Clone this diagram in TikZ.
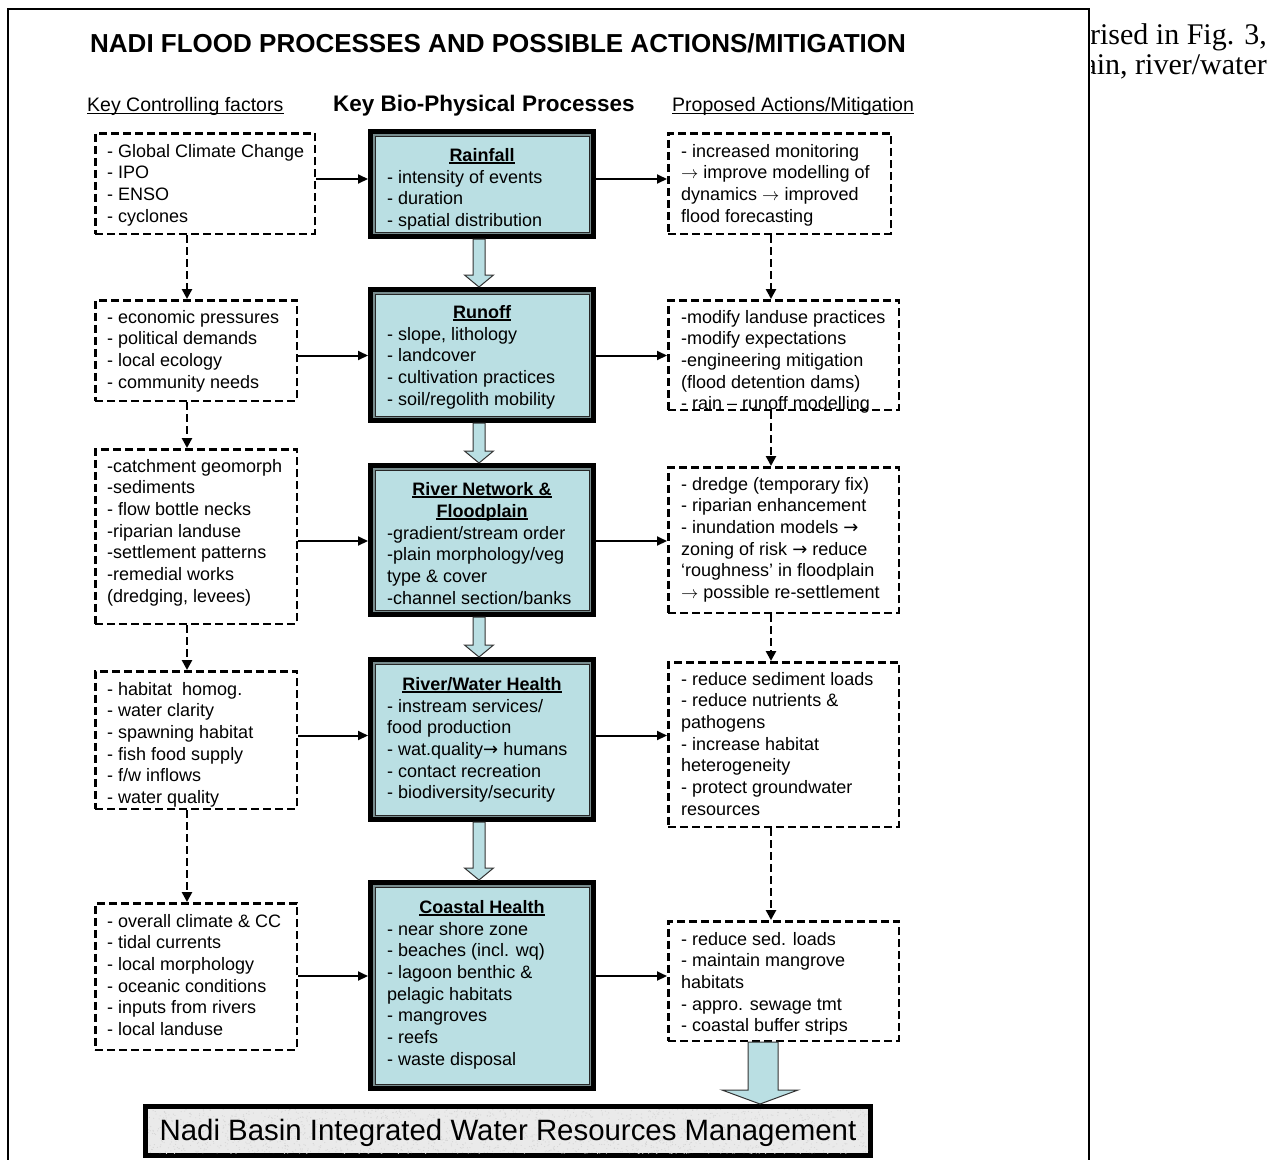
\documentclass[tikz,border=0pt]{standalone}
\usepackage{fontspec}
\setmainfont{Liberation Sans}
\newfontfamily\timesf{Liberation Serif}
\newfontfamily\dvs{DejaVu Sans}
\usetikzlibrary{arrows.meta,calc}
\definecolor{procfill}{RGB}{186,223,227}
\definecolor{procedge}{RGB}{120,140,142}
\definecolor{bbfill}{RGB}{234,234,234}
\newcommand\thinarr{\ensuremath{\rightarrow}}
\newcommand\blkarrow[2]{%
  \draw[blk] ($(#1.south)+(-9,0)$) -- ($(#1.south)+(3,0)$) -- ($(#2.north)+(3,-12)$)
    -- ($(#2.north)+(11.5,-12)$) -- ($(#2.north)+(-3,0)$) -- ($(#2.north)+(-17.5,-12)$)
    -- ($(#2.north)+(-9,-12)$) -- cycle;}
\begin{document}
\begin{tikzpicture}[x=1pt,y=-1pt,
  body/.style={font=\fontsize{18}{21.65}\selectfont, inner sep=0pt, anchor=north west, align=left},
  ptitle/.style={font=\bfseries\fontsize{18}{21.65}\selectfont, inner sep=0pt, anchor=base},
  hdr/.style={font=\fontsize{19.5}{23}\selectfont, inner sep=0pt, anchor=base west},
  dbox/.style={draw, line width=2.5pt, dash pattern=on 8pt off 4pt},
  proc/.style={draw=black, line width=5pt, fill=procfill},
  arr/.style={line width=2pt, -{Triangle[length=10pt,width=9pt]}},
  darr/.style={line width=2.5pt, dash pattern=on 8pt off 4pt, -{Triangle[length=10pt,width=10pt]}},
  blk/.style={fill=procfill, draw=black!80, line width=1pt, line join=miter},
  ul/.style={line width=1.4pt}]
\useasboundingbox (0,0) rectangle (1276,1159);

% outer frame
\draw[line width=2.5pt] (8,1162) -- (8,9) -- (1089,9) -- (1089,1162);

% side text (cut by the frame)
\begin{scope}
  \clip (1091,0) rectangle (1276,1159);
  \node[font=\timesf\fontsize{30}{34}\selectfont, anchor=base east, inner sep=0pt] (s1) at (1267,44) {rised in Fig. 3,};
  \node[font=\timesf\fontsize{30}{34}\selectfont, anchor=base east, inner sep=0pt] (s2) at (1267,74) {ain, river/water};
\end{scope}

% title and headers
\node[font=\bfseries\fontsize{26}{30}\selectfont, anchor=base west, inner sep=0pt] (title) at (90,52) {NADI FLOOD PROCESSES AND POSSIBLE ACTIONS/MITIGATION};
\node[hdr] (h1) at (87,111) {Key Controlling factors};
\node[font=\bfseries\fontsize{22.5}{27}\selectfont, anchor=base west, inner sep=0pt] (h2) at (333,111) {Key Bio-Physical Processes};
\node[hdr] (h3) at (672,111) {Proposed Actions/Mitigation};
\draw[ul] ([yshift=-2.5pt]h1.base west) -- ([yshift=-2.5pt]h1.base east);
\draw[ul] ([yshift=-2.5pt]h3.base west) -- ([yshift=-2.5pt]h3.base east);

% process boxes
\node[proc, minimum width=223pt, minimum height=105pt] (P1) at (482,184) {};
\node[proc, minimum width=223pt, minimum height=131pt] (P2) at (482,355) {};
\node[proc, minimum width=223pt, minimum height=149pt] (P3) at (482,540) {};
\node[proc, minimum width=223pt, minimum height=160pt] (P4) at (482,739.5) {};
\node[proc, minimum width=223pt, minimum height=206pt] (P5) at (482,985.5) {};
\foreach \p in {P1,P2,P3,P4,P5}{
  \draw[line width=1.5pt, procedge] ($(\p.north west)+(5.75,5.75)$) rectangle ($(\p.south east)+(-5.75,-5.75)$);
  \draw[line width=1pt, black!85] ($(\p.north west)+(7,7)$) rectangle ($(\p.south east)+(-7,-7)$);
}

% block arrows between processes
\blkarrow{P1}{P2}
\blkarrow{P2}{P3}
\blkarrow{P3}{P4}
\blkarrow{P4}{P5}

% process texts
\node[ptitle] (P1t) at (482,161) {Rainfall};
\node[body] (P1x) at (387,169) {\rule{0pt}{14pt}- intensity of events\\- duration\\- spatial distribution};
\node[ptitle] (P2t) at (482,318) {Runoff};
\node[body] (P2x) at (387,326) {\rule{0pt}{14pt}- slope, lithology\\- landcover\\- cultivation practices\\- soil/regolith mobility};
\node[ptitle] (P3t) at (482,495) {River Network \&};
\node[ptitle] (P3u) at (482,517) {Floodplain};
\node[body] (P3x) at (387,525) {\rule{0pt}{14pt}-gradient/stream order\\-plain morphology/veg\\type \& cover\\-channel section/banks};
\node[ptitle] (P4t) at (482,690) {River/Water Health};
\node[body] (P4x) at (387,698) {\rule{0pt}{14pt}- instream services/\\food production\\- wat.quality{\dvs →} humans\\- contact recreation\\- biodiversity/security};
\node[ptitle] (P5t) at (482,913) {Coastal Health};
\node[body] (P5x) at (387,921) {\rule{0pt}{14pt}- near shore zone\\- beaches (incl. wq)\\- lagoon benthic \&\\pelagic habitats\\- mangroves\\- reefs\\- waste disposal};
\foreach \t in {P1t,P2t,P3t,P3u,P4t,P5t}{
  \draw[ul] ([yshift=-2pt]\t.base west) -- ([yshift=-2pt]\t.base east);
}

% left texts
\node[body] (L1x) at (107,143) {\rule{0pt}{14pt}- Global Climate Change\\- IPO\\- ENSO\\- cyclones};
\node[body] (L2x) at (107,309) {\rule{0pt}{14pt}- economic pressures\\- political demands\\- local ecology\\- community needs};
\node[body] (L3x) at (107,458) {\rule{0pt}{14pt}-catchment geomorph\\-sediments\\- flow bottle necks\\-riparian landuse\\-settlement patterns\\-remedial works\\(dredging, levees)};
\node[body] (L4x) at (107,681) {\rule{0pt}{14pt}- habitat\ \ homog.\\- water clarity\\- spawning habitat\\- fish food supply\\- f/w inflows\\- water quality};
\node[body] (L5x) at (107,913) {\rule{0pt}{14pt}- overall climate \& CC\\- tidal currents\\- local morphology\\- oceanic conditions\\- inputs from rivers\\- local landuse};

% right texts
\node[body] (R1x) at (681,143) {\rule{0pt}{14pt}- increased monitoring\\\thinarr{} improve modelling of\\dynamics \thinarr{} improved\\flood forecasting};
\node[body] (R2x) at (681,309) {\rule{0pt}{14pt}-modify landuse practices\\-modify expectations\\-engineering mitigation\\(flood detention dams)\\- rain – runoff modelling};
\node[body] (R3x) at (681,476) {\rule{0pt}{14pt}- dredge (temporary fix)\\- riparian enhancement\\- inundation models {\dvs →}\\zoning of risk {\dvs →} reduce\\‘roughness’ in floodplain\\\thinarr{} possible re-settlement};
\node[body] (R4x) at (681,671) {\rule{0pt}{14pt}- reduce sediment loads\\- reduce nutrients \&\\pathogens\\- increase habitat\\heterogeneity\\- protect groundwater\\resources};
\node[body] (R5x) at (681,931) {\rule{0pt}{14pt}- reduce sed. loads\\- maintain mangrove\\habitats\\- appro. sewage tmt\\- coastal buffer strips};

% dashed boxes
\node[dbox, minimum width=219.5pt, minimum height=100.5pt] (L1) at (205,183.5) {};
\node[dbox, minimum width=201.5pt, minimum height=100.5pt] (L2) at (196,350.5) {};
\node[dbox, minimum width=201.5pt, minimum height=174.5pt] (L3) at (196,536.5) {};
\node[dbox, minimum width=201.5pt, minimum height=137.5pt] (L4) at (196,740) {};
\node[dbox, minimum width=201.5pt, minimum height=146.5pt] (L5) at (196,976.5) {};
\node[dbox, minimum width=222.5pt, minimum height=100.5pt] (R1) at (779.5,183.5) {};
\node[dbox, minimum width=230.5pt, minimum height=109.5pt] (R2) at (783.5,355) {};
\node[dbox, minimum width=230.5pt, minimum height=145.5pt] (R3) at (783.5,540) {};
\node[dbox, minimum width=230.5pt, minimum height=164.5pt] (R4) at (783.5,744.5) {};
\node[dbox, minimum width=230.5pt, minimum height=119.5pt] (R5) at (783.5,981) {};

% horizontal arrows
\coordinate (y1) at (0,179);
\coordinate (y2) at (0,355.5);
\coordinate (y3) at (0,541);
\coordinate (y4) at (0,735.5);
\coordinate (y5) at (0,976);
\foreach \i in {1,...,5}{
  \draw[arr] (L\i.east |- y\i) -- (P\i.west |- y\i);
  \draw[arr] (P\i.east |- y\i) -- (R\i.west |- y\i);
}

% dashed vertical arrows
\coordinate (xl) at (187,0);
\coordinate (xr) at (771,0);
\foreach \a/\b in {1/2,2/3,3/4,4/5}{
  \draw[darr] (L\a.south -| xl) -- (L\b.north -| xl);
  \draw[darr] (R\a.south -| xr) -- (R\b.north -| xr);
}

% bottom box
\node[draw=black, line width=5pt, fill=bbfill, minimum width=725pt, minimum height=49pt] (B) at (508,1131) {};
\begin{scope}
  \clip ($(B.north west)+(5,5)$) rectangle ($(B.south east)+(-5,-5)$);
  \pgfmathsetseed{7}
  \foreach \i in {1,...,2200}{
    \fill[black!16] ({145+726*rnd},{1106+50*rnd}) circle (0.6pt);
  }
\end{scope}
\node[font=\fontsize{29.4}{34}\selectfont, inner sep=0pt, anchor=base] (Bt) at (508,1140) {Nadi Basin Integrated Water Resources Management};

% big arrow to bottom box
\coordinate (tipB) at ($(B.north)+(252,0)$);
\draw[blk] ($(R5.south)+(-35.5,0)$) -- ($(R5.south)+(-5.5,0)$) -- ($(tipB)+(18,-14)$)
  -- ($(tipB)+(38,-14)$) -- (tipB) -- ($(tipB)+(-38,-14)$) -- ($(tipB)+(-12,-14)$) -- cycle;
\end{tikzpicture}
\end{document}
